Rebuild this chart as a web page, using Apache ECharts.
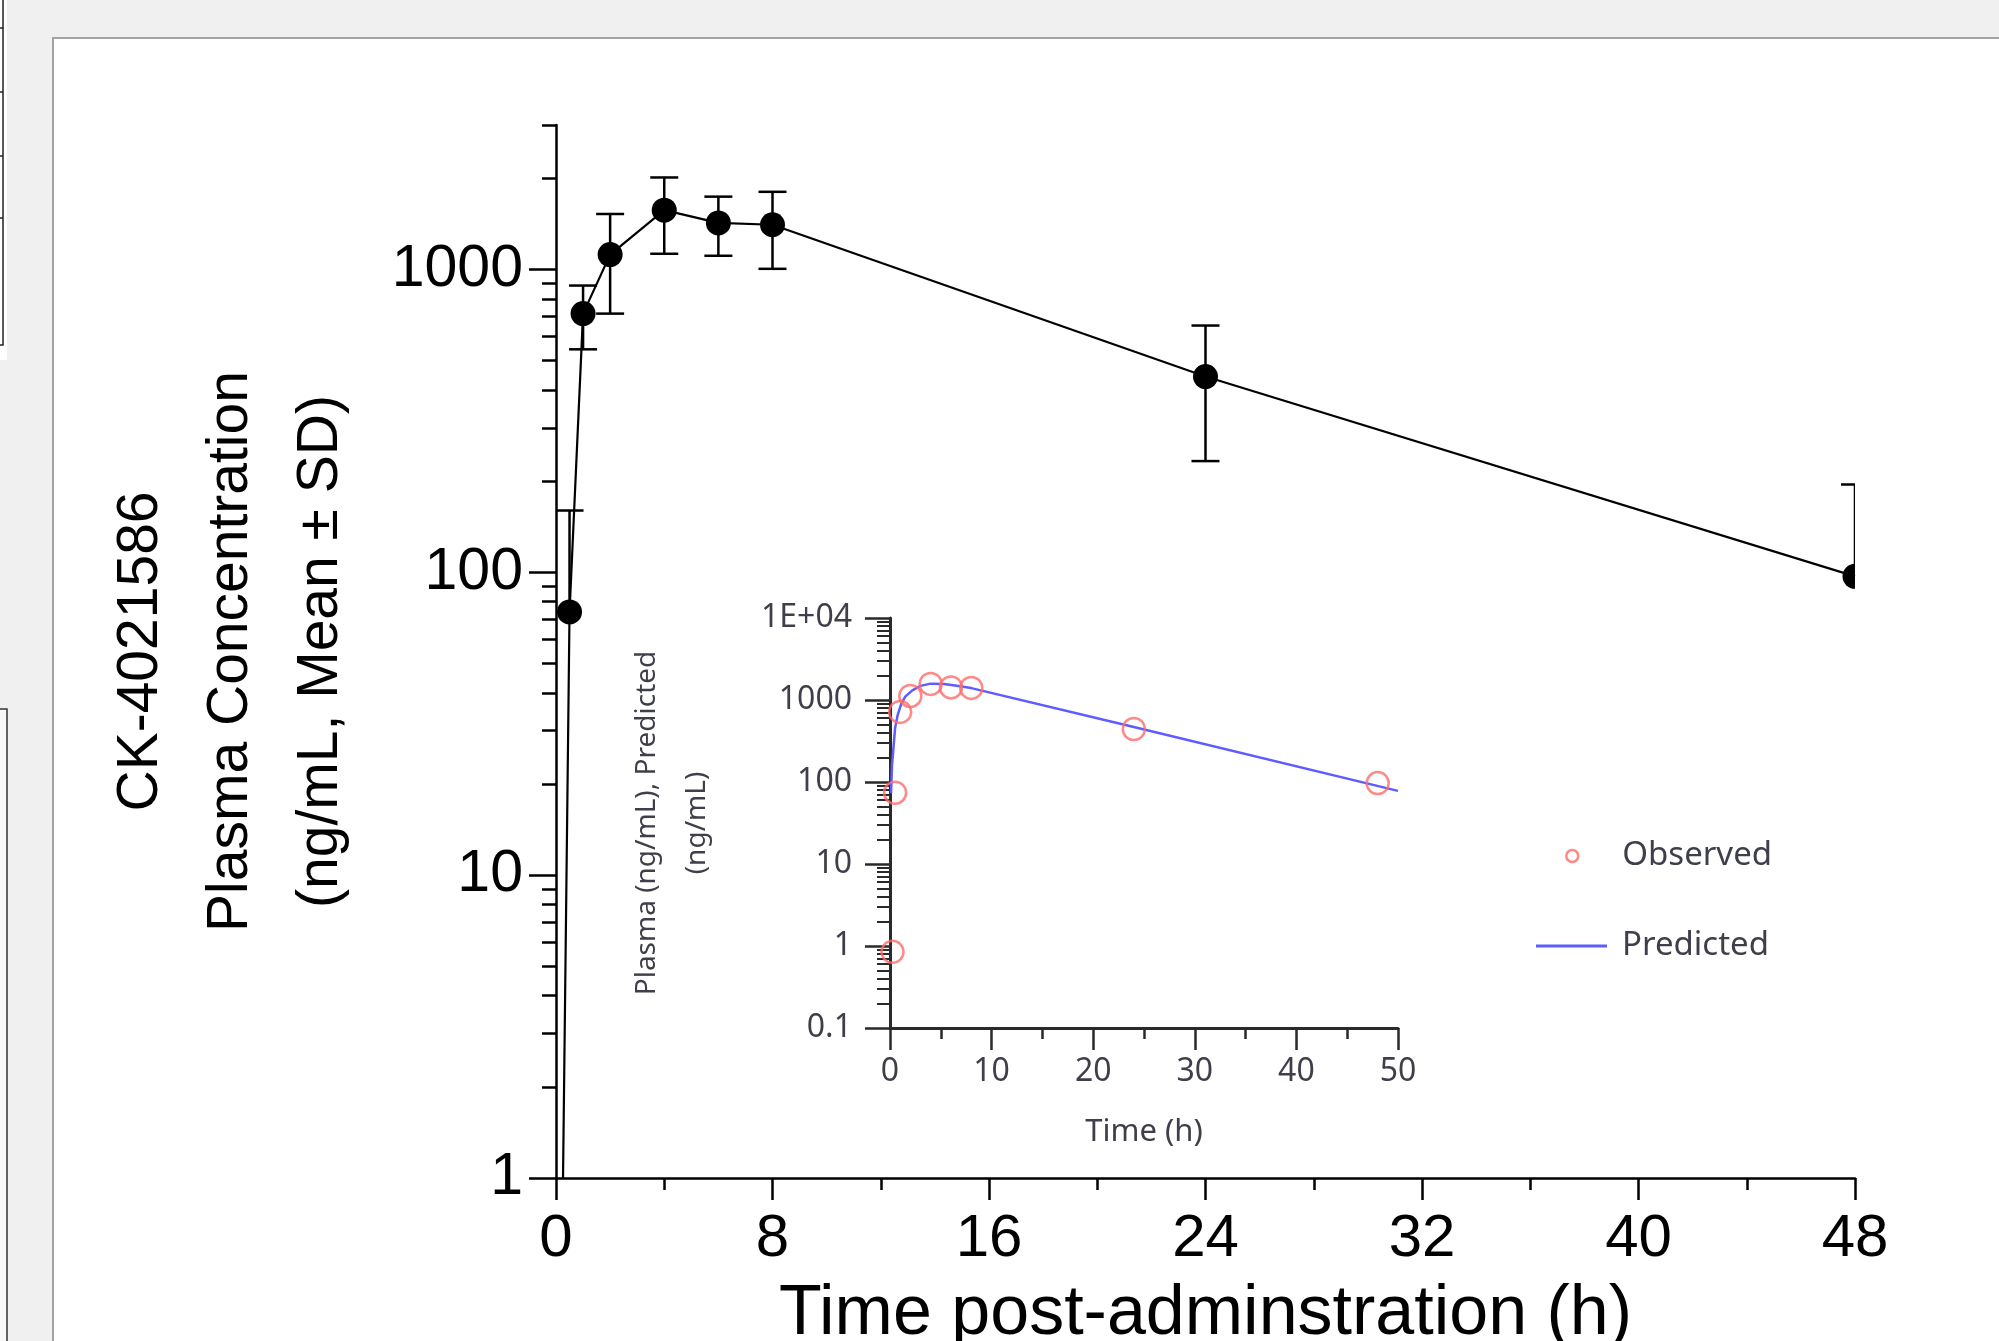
<!DOCTYPE html>
<html><head><meta charset="utf-8">
<script src="https://cdn.jsdelivr.net/npm/echarts@6/dist/echarts.min.js"></script>
<style>html,body{margin:0;padding:0;background:#f0f0f0;overflow:hidden}#c{width:1999px;height:1341px}</style>
</head><body><div id="c"></div>
<script>
// ---- data ----
const times    = [0.25, 0.5, 1, 2, 4, 6, 8, 24, 48];
const meanConc = [0.85, 74, 715, 1120, 1570, 1425, 1405, 443, 97];
const sdConc   = [0, 86, 170, 405, 443, 315, 400, 210, 98];
const predTimes = [0.1, 0.2, 0.35, 0.5, 0.75, 1.1, 1.5, 2.2, 3, 4, 5.3, 6.4, 8, 24, 50];
const predConc  = [73, 160, 270, 454, 653, 893, 1099, 1312, 1486, 1583, 1566, 1503, 1397, 469, 78];
// ---- tick labels ----
const mainXTicks = [0, 8, 16, 24, 32, 40, 48];
const mainYMajor = [1, 10, 100, 1000];
const mainYMinor = [2,3,4,5,6,7,8,9,20,30,40,50,60,70,80,90,200,300,400,500,600,700,800,900,2000,3000];
const insetXTicks = [0, 10, 20, 30, 40, 50];
const insetYMajor = [0.1, 1, 10, 100, 1000, 10000];
const insetYMinor = [0.2,0.3,0.4,0.5,0.6,0.7,0.8,0.9,2,3,4,5,6,7,8,9,20,30,40,50,60,70,80,90,200,300,400,500,600,700,800,900,2000,3000,4000,5000,6000,7000,8000,9000];

const mainData = times.map((t, i) => [t, meanConc[i], sdConc[i]]);
const meanLine = times.map((t, i) => [t, meanConc[i]]);
const predData = predTimes.map((t, i) => [t, predConc[i]]);

const MAINFONT = "'Liberation Sans', Arial, sans-serif";
const INSETFONT = "'Noto Sans', 'Open Sans', sans-serif";
const INSETTXT = '#3e3f4a';
const INSETAX = '#2a2a2a';

function renderMain(params, api) {
  const t = api.value(0), m = api.value(1), s = api.value(2);
  const c = api.coord([t, m]);
  const kids = [];
  const st = {stroke: '#000', lineWidth: 2.5};
  const capW = 14;
  if (s > 0) {
    const hi = api.coord([t, m + s]);
    const lo = (m - s) > 0 ? api.coord([t, m - s]) : null;
    kids.push({type: 'line', shape: {x1: c[0], y1: hi[1], x2: c[0], y2: lo ? lo[1] : c[1]}, style: st});
    kids.push({type: 'line', shape: {x1: c[0] - capW, y1: hi[1], x2: c[0] + capW, y2: hi[1]}, style: st});
    if (lo) kids.push({type: 'line', shape: {x1: c[0] - capW, y1: lo[1], x2: c[0] + capW, y2: lo[1]}, style: st});
  }
  kids.push({type: 'circle', shape: {cx: c[0], cy: c[1], r: 12.5}, style: {fill: '#000'}});
  return {type: 'group', children: kids};
}

const plain = v => (v >= 10000 ? '1E+04' : String(v));

const chart = echarts.init(document.getElementById('c'), null, {renderer: 'canvas'});
const option = {
  animation: false,
  backgroundColor: '#f0f0f0',
  graphic: {
    elements: [
      {type: 'rect', z: -100, shape: {x: 53, y: 38, width: 1990, height: 1340}, style: {fill: '#ffffff', stroke: '#a3a3a3', lineWidth: 2}},
      {type: 'rect', z: -100, shape: {x: -2, y: -2, width: 9, height: 362}, style: {fill: '#ffffff'}},
      {type: 'polyline', z: -99, shape: {points: [[0, 28], [3, 28], [3, 345], [0, 345]]}, style: {stroke: '#222', lineWidth: 1.5, fill: null}},
      {type: 'line', z: -99, shape: {x1: 0, y1: 92, x2: 3, y2: 92}, style: {stroke: '#222', lineWidth: 1.5}},
      {type: 'line', z: -99, shape: {x1: 0, y1: 156, x2: 3, y2: 156}, style: {stroke: '#222', lineWidth: 1.5}},
      {type: 'line', z: -99, shape: {x1: 0, y1: 218, x2: 3, y2: 218}, style: {stroke: '#222', lineWidth: 1.5}},
      {type: 'line', z: -99, shape: {x1: 3, y1: 0, x2: 3, y2: 28}, style: {stroke: '#222', lineWidth: 1.5}},
      {type: 'rect', z: -100, shape: {x: -5, y: 709, width: 12, height: 700}, style: {fill: '#f8f8f8', stroke: '#333', lineWidth: 1.5}}
    ]
  },
  grid: [
    {left: 556, top: 125, width: 1299, height: 1053, containLabel: false, outerBoundsMode: 'none'},
    {left: 890, top: 618, width: 508, height: 410, containLabel: false, outerBoundsMode: 'none'}
  ],
  legend: [
    {data: [{name: 'Observed', icon: 'circle', itemStyle: {color: 'rgba(255,255,255,0)', borderColor: '#ff6b6b', borderWidth: 2.5}}],
     left: 1565, top: 836, padding: 0, itemWidth: 14, itemHeight: 12, selectedMode: false,
     textStyle: {fontFamily: INSETFONT, fontSize: 33, color: INSETTXT, lineHeight: 40, padding: [0, 0, 0, 38]}},
    {data: [{name: 'Predicted', icon: 'rect', itemStyle: {color: '#5c5cff', borderWidth: 0}}],
     left: 1536, top: 926, padding: 0, itemWidth: 71, itemHeight: 3, selectedMode: false,
     textStyle: {fontFamily: INSETFONT, fontSize: 33, color: INSETTXT, lineHeight: 40, padding: [0, 0, 0, 10]}}
  ],
  xAxis: [
    {gridIndex: 0, type: 'value', min: 0, max: 48, interval: 8,
     axisLine: {show: true, lineStyle: {color: '#000', width: 2.5}},
     axisTick: {show: true, length: 22, lineStyle: {color: '#000', width: 2.5}},
     minorTick: {show: true, splitNumber: 2, length: 12, lineStyle: {color: '#000', width: 2.5}},
     splitLine: {show: false}, minorSplitLine: {show: false},
     axisLabel: {customValues: mainXTicks, margin: 31, fontSize: 60, fontFamily: MAINFONT, color: '#000', formatter: plain},
     name: 'Time post-adminstration (h)', nameLocation: 'middle', nameGap: 102,
     nameTextStyle: {fontSize: 70, fontFamily: MAINFONT, color: '#000'}},
    {gridIndex: 1, type: 'value', min: 0, max: 50, interval: 10,
     axisLine: {show: true, lineStyle: {color: INSETAX, width: 3}},
     axisTick: {show: true, length: 22, lineStyle: {color: INSETAX, width: 2.5}},
     minorTick: {show: true, splitNumber: 2, length: 11, lineStyle: {color: INSETAX, width: 2.5}},
     splitLine: {show: false}, minorSplitLine: {show: false},
     axisLabel: {customValues: insetXTicks, margin: 28, fontSize: 32, fontFamily: INSETFONT, color: INSETTXT, formatter: plain},
     name: 'Time (h)', nameLocation: 'middle', nameGap: 89,
     nameTextStyle: {fontSize: 31, fontFamily: INSETFONT, color: INSETTXT}}
  ],
  yAxis: [
    {gridIndex: 0, type: 'log', logBase: 10, min: 1, max: 3000, position: 'left',
     axisLine: {show: true, lineStyle: {color: '#000', width: 2.5}},
     axisTick: {show: true, customValues: mainYMajor, length: 27, lineStyle: {color: '#000', width: 2.5}},
     splitLine: {show: false},
     axisLabel: {customValues: mainYMajor, margin: 33, fontSize: 59, fontFamily: MAINFONT, color: '#000', formatter: plain},
     name: 'CK-4021586\nPlasma Concentration\n(ng/mL, Mean \u00b1 SD)', nameLocation: 'middle', nameRotate: 90, nameGap: 190,
     nameTextStyle: {fontSize: 57, lineHeight: 90, fontFamily: MAINFONT, color: '#000', align: 'center'}},
    {gridIndex: 0, type: 'log', logBase: 10, min: 1, max: 3000, position: 'left', offset: 0,
     axisLine: {show: false},
     axisTick: {show: true, customValues: mainYMinor, length: 14, lineStyle: {color: '#000', width: 2.5}},
     splitLine: {show: false}, axisLabel: {show: false}},
    {gridIndex: 1, type: 'log', logBase: 10, min: 0.1, max: 10000, position: 'left',
     axisLine: {show: true, lineStyle: {color: INSETAX, width: 3}},
     axisTick: {show: true, customValues: insetYMajor, length: 25, lineStyle: {color: INSETAX, width: 2.5}},
     splitLine: {show: false},
     axisLabel: {customValues: insetYMajor, margin: 38, fontSize: 32, fontFamily: INSETFONT, color: INSETTXT, formatter: plain},
     name: 'Plasma (ng/mL), Predicted\n(ng/mL)', nameLocation: 'middle', nameRotate: 90, nameGap: 168,
     nameTextStyle: {fontSize: 28, lineHeight: 50, fontFamily: INSETFONT, color: INSETTXT, align: 'center'}},
    {gridIndex: 1, type: 'log', logBase: 10, min: 0.1, max: 10000, position: 'left', offset: 0,
     axisLine: {show: false},
     axisTick: {show: true, customValues: insetYMinor, length: 13, lineStyle: {color: INSETAX, width: 2}},
     splitLine: {show: false}, axisLabel: {show: false}}
  ],
  series: [
    {type: 'line', name: 'Mean', xAxisIndex: 0, yAxisIndex: 0, data: meanLine, symbol: 'none', clip: true,
     lineStyle: {color: '#000', width: 2.2}, z: 3, silent: true},
    {type: 'custom', name: 'MeanSD', xAxisIndex: 0, yAxisIndex: 0, data: mainData, clip: true,
     encode: {x: 0, y: 1}, renderItem: renderMain, z: 4, silent: true},
    {type: 'line', name: 'Predicted', xAxisIndex: 1, yAxisIndex: 2, data: predData, symbol: 'none', showSymbol: false,
     smooth: false, clip: true, lineStyle: {color: '#5c5cff', width: 2.5}, itemStyle: {color: '#5c5cff'}, z: 3, silent: true},
    {type: 'scatter', name: 'Observed', xAxisIndex: 1, yAxisIndex: 2, data: meanLine, symbol: 'circle', symbolSize: 22,
     itemStyle: {color: 'rgba(255,255,255,0)', borderColor: '#ff6b6b', borderWidth: 2.5}, z: 4, silent: true}
  ]
};
chart.setOption(option);
</script>
</body></html>
